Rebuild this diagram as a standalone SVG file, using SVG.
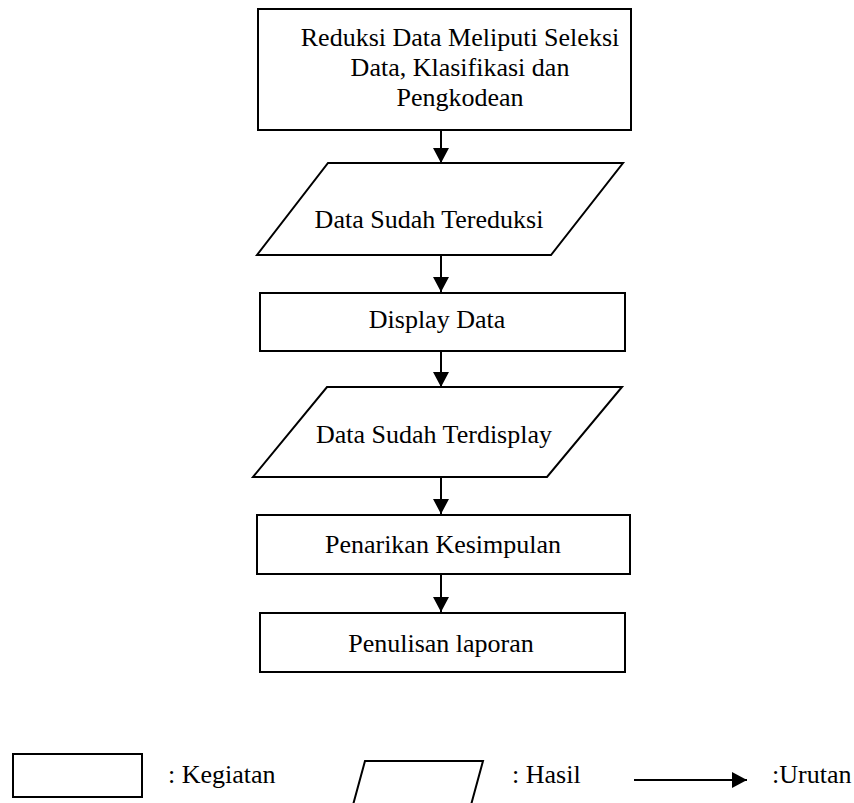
<svg xmlns="http://www.w3.org/2000/svg" width="854" height="803" viewBox="0 0 854 803">
<style>
.s{fill:#fff;stroke:#000;stroke-width:2}
.t{font-family:"Liberation Serif","Times New Roman",serif;font-size:26px;fill:#000;text-anchor:middle}
.l{font-family:"Liberation Serif","Times New Roman",serif;font-size:26px;fill:#000}
.c{stroke:#000;stroke-width:2;fill:none}
</style>
<defs>
<marker id="ah" markerWidth="16" markerHeight="16" refX="15" refY="8" orient="auto" markerUnits="userSpaceOnUse">
<path d="M0,0 L15,8 L0,16 Z" fill="#000"/>
</marker>
</defs>
<rect width="854" height="803" fill="#fff"/>
<g id="connectors">
<line class="c" x1="441" y1="130" x2="441" y2="163" marker-end="url(#ah)"/>
<line class="c" x1="441" y1="255" x2="441" y2="292" marker-end="url(#ah)"/>
<line class="c" x1="441" y1="351" x2="441" y2="387" marker-end="url(#ah)"/>
<line class="c" x1="441" y1="477" x2="441" y2="514" marker-end="url(#ah)"/>
<line class="c" x1="441" y1="574" x2="441" y2="612" marker-end="url(#ah)"/>
</g>
<g id="n1">
<rect class="s" x="258" y="9" width="373" height="121"/>
<text class="t" x="460" y="46">Reduksi Data Meliputi Seleksi</text>
<text class="t" x="460" y="76">Data, Klasifikasi dan</text>
<text class="t" x="460" y="106">Pengkodean</text>
</g>
<g id="n2">
<polygon class="s" points="328,163 623,163 551,255 257,255"/>
<text class="t" x="429" y="228">Data Sudah Tereduksi</text>
</g>
<g id="n3">
<rect class="s" x="260" y="293" width="365" height="58"/>
<text class="t" x="437" y="328">Display Data</text>
</g>
<g id="n4">
<polygon class="s" points="327,387 622,387 547,477 253,477"/>
<text class="t" x="434" y="443">Data Sudah Terdisplay</text>
</g>
<g id="n5">
<rect class="s" x="257" y="515" width="373" height="59"/>
<text class="t" x="443" y="553">Penarikan Kesimpulan</text>
</g>
<g id="n6">
<rect class="s" x="260" y="613" width="365" height="59"/>
<text class="t" x="441" y="652">Penulisan laporan</text>
</g>
<g id="legend">
<rect class="s" x="13" y="754" width="129" height="43"/>
<text class="l" x="168" y="783">: Kegiatan</text>
<polygon class="s" points="365,761 483,761 471,805 353,805"/>
<text class="l" x="512" y="783">: Hasil</text>
<line class="c" x1="634" y1="780" x2="747" y2="780" marker-end="url(#ah)"/>
<text class="l" x="772" y="783">:Urutan</text>
</g>
</svg>
